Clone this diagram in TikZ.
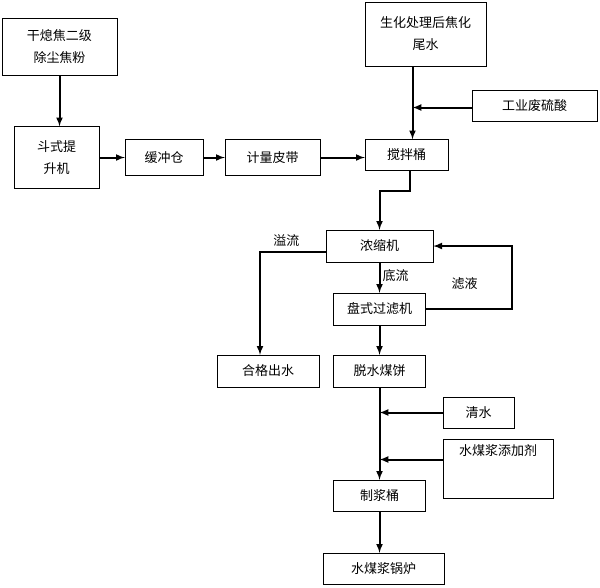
\documentclass[tikz,border=0pt]{standalone}
\usepackage{fontspec}
\newfontfamily\cjk{Noto Sans CJK SC}

\begin{document}
\begin{tikzpicture}[x=1pt,y=-1pt,
   every node/.style={font=\cjk\fontsize{13}{22}\selectfont},
   unit/.style={draw,thin,align=center,inner sep=0pt},
   flow/.style={-latex,line width=2pt},
   lbl/.style={inner sep=1pt}]
\useasboundingbox (0,0) rectangle (600,587);
% sources and conveying line
\node[unit,minimum width=115,minimum height=57] (dust) at (59.5,46.5) {干熄焦二级\\除尘焦粉};
\node[unit,minimum width=85,minimum height=62] (lift) at (56.5,157.5) {斗式提\\升机};
\node[unit,minimum width=78,minimum height=36] (buffer) at (164,157.5) {缓冲仓};
\node[unit,minimum width=95,minimum height=36] (belt) at (272.5,157.5) {计量皮带};
\node[unit,minimum width=121,minimum height=64] (tailwater) at (425.5,34) {生化处理后焦化\\尾水};
\node[unit,minimum width=125,minimum height=31] (acid) at (534.5,105.5) {工业废硫酸};
\node[unit,minimum width=83,minimum height=31] (mixer) at (406.5,155) {搅拌桶};
% thickening and filtering
\node[unit,minimum width=107,minimum height=32] (thick) at (379.5,246) {浓缩机};
\node[unit,minimum width=102,minimum height=32] (outwater) at (268,371) {合格出水};
\node[unit,minimum width=92,minimum height=32] (filter) at (379.5,309) {盘式过滤机};
\node[unit,minimum width=92,minimum height=32] (cake) at (379.5,371) {脱水煤饼};
% slurry making
\node[unit,minimum width=71,minimum height=31] (clean) at (478.5,412.5) {清水};
\node[unit,minimum width=110,text height=12pt,text depth=38pt,inner ysep=4.5pt] (additive) at (498,468.5) {水煤浆添加剂};
\node[unit,minimum width=92,minimum height=31] (slurry) at (379.5,495.5) {制浆桶};
\node[unit,minimum width=121,minimum height=31] (boiler) at (383.5,568.5) {水煤浆锅炉};
\coordinate (feed) at (412.5,107.5);

\draw[flow] (dust) -- (dust |- lift.north);
\draw[flow] (lift) -- (buffer);
\draw[flow] (buffer) -- (belt);
\draw[flow] (belt.east) -- (belt.east -| mixer.west);
\draw[flow] (tailwater.south -| feed) -- (mixer.north -| feed);
\draw[flow] (acid.west |- feed) -- (feed);
\draw[flow] ([xshift=3pt]mixer.south) -- ++(0,20) -| (thick.north);
\draw[flow] ([yshift=-6pt]thick.west) -| node[lbl,pos=0.3,above=4pt] {溢流} ([xshift=-8pt]outwater.north);
\draw[flow] (thick.south) -- node[lbl,right=1pt,pos=0.45] {底流} (thick.south |- filter.north);
\draw[flow] (filter.east) -- ++(86,0) |- node[lbl,pos=0.8,below=30pt] {滤液} (thick.east);
\draw[flow] (filter) -- (cake);
\draw[flow] (cake) -- (slurry);
\draw[flow] (clean.west) -- (clean.west -| cake.south);
\draw[flow] (additive.west |- 0,459.5) -- (cake.south |- 0,459.5);
\draw[flow] (slurry.south) -- (slurry.south |- boiler.north);
\end{tikzpicture}
\end{document}
